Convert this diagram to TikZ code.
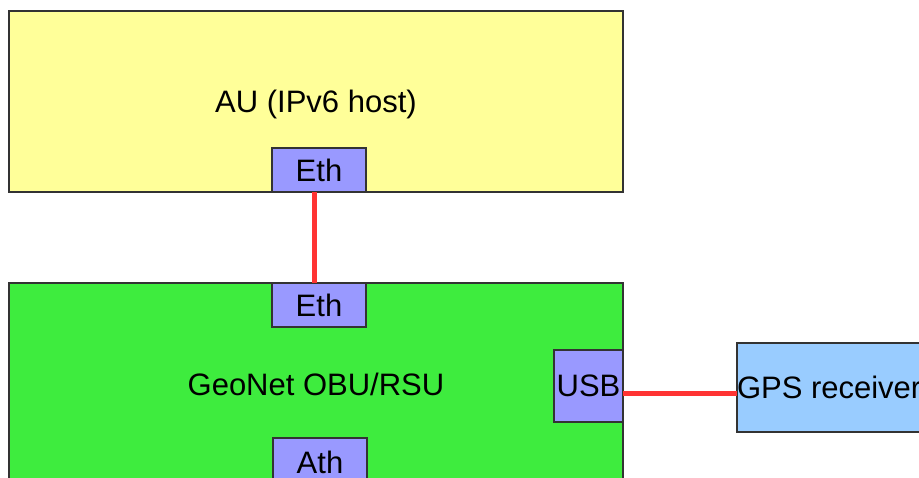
\documentclass[tikz,border=0pt]{standalone}
\usepackage{fontspec}
\setmainfont{Liberation Sans}
\definecolor{auyellow}{HTML}{FFFF99}
\definecolor{geogreen}{HTML}{3EEC3E}
\definecolor{portblue}{HTML}{9999FF}
\definecolor{gpsblue}{HTML}{99CCFF}
\definecolor{linkred}{HTML}{FF3333}
\definecolor{edgegray}{HTML}{333333}
\tikzset{
  box/.style={draw=edgegray, line width=1.2pt, inner sep=0pt, outer sep=0pt,
    font=\fontsize{31}{37}\selectfont},
  port/.style={box, fill=portblue, minimum width=94pt, minimum height=44pt},
  link/.style={draw=linkred, line width=5pt},
  lbl/.style={inner sep=0pt, font=\fontsize{31}{37}\selectfont}
}
\begin{document}
\begin{tikzpicture}[x=1pt, y=-1pt]
\clip (0,0) rectangle (919,477);
\fill[white] (0,0) rectangle (919,477);
% application unit
\node[box, fill=auyellow, minimum width=614pt, minimum height=181pt, anchor=north west] (au) at (9,11) {};
\node[lbl] (autext) at (316,104) {AU (IPv6 host)};
\node[port, anchor=north west] (eth1) at (272,148) {Eth};
% router box
\node[box, fill=geogreen, minimum width=614pt, minimum height=240pt, anchor=north west] (geo) at (9,283) {};
\node[lbl] (geotext) at (316,384) {GeoNet OBU/RSU};
\node[port, anchor=north west] (eth2) at (272,283) {Eth};
\node[port, minimum height=48pt, anchor=north west] (ath) at (273,438) {Ath};
\node[port, minimum width=69pt, minimum height=72pt, anchor=north west] (usb) at (554,350) {USB};
% GPS receiver
\node[box, fill=gpsblue, minimum width=184pt, minimum height=89pt, anchor=north west] (gps) at (737,343) {GPS receiver};
% links
\draw[link] ([xshift=-5pt]eth1.south) -- ([xshift=-5pt]eth2.north);
\draw[link] ([yshift=-7pt]usb.east) -- ([yshift=-7pt]usb.east -| gps.west);
\end{tikzpicture}
\end{document}
